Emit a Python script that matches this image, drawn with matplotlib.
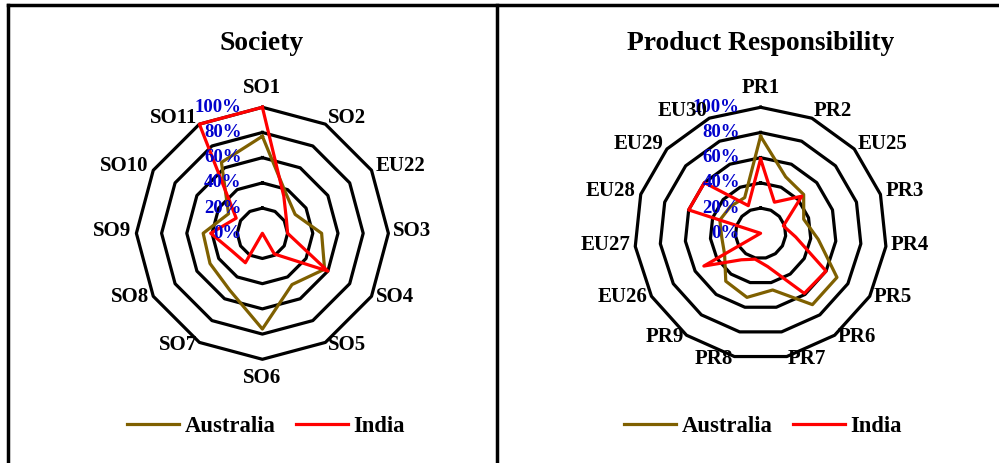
import numpy as np
import matplotlib
matplotlib.use('Agg')
import matplotlib.pyplot as plt
from matplotlib.lines import Line2D

plt.rcParams['font.family'] = ['Liberation Serif', 'DejaVu Serif']
plt.rcParams['font.weight'] = 'bold'

# values (percent)
society_labels = ['SO1', 'SO2', 'EU22', 'SO3', 'SO4', 'SO5', 'SO6', 'SO7', 'SO8', 'SO9', 'SO10', 'SO11']
society_australia = [77, 37, 30, 47, 57, 47, 76, 52, 48, 47, 31, 65]
society_india = [100, 34, 22, 20, 60, 19, 0, 27, 28, 41, 24, 100]

product_labels = ['PR1', 'PR2', 'EU25', 'PR3', 'PR4', 'PR5', 'PR6', 'PR7', 'PR8', 'PR9',
                  'EU26', 'EU27', 'EU28', 'EU29', 'EU30']
product_australia = [77, 49, 46, 36, 46, 70, 70, 46, 52, 47, 33, 31, 34, 32, 31]
product_india = [59, 27, 44, 19, 28, 60, 59, 27, 21, 26, 52, 0, 60, 60, 24]

ring_levels = [20, 40, 60, 80, 100]
pct_levels = [0, 20, 40, 60, 80, 100]
pct_labels = ['0%', '20%', '40%', '60%', '80%', '100%']

OLIVE = '#7F6000'
RED = '#FF0000'
BLUE = '#0000CC'
LW = 2.3


def radar(ax, labels, aus, ind):
    n = len(labels)
    theta = np.linspace(0, 2 * np.pi, n, endpoint=False)
    closed = np.append(theta, theta[0])
    ax.set_theta_zero_location('N')
    ax.set_theta_direction(-1)
    ax.set_ylim(0, 100)
    ax.grid(False)
    ax.spines['polar'].set_visible(False)
    ax.set_xticks([])
    ax.set_yticks([])
    ax.patch.set_visible(False)

    for lv in ring_levels:
        ax.plot(closed, [lv] * (n + 1), color='black', lw=LW, zorder=1, clip_on=False)
    l1, = ax.plot(closed, aus + aus[:1], color=OLIVE, lw=LW, zorder=3, clip_on=False, label='Australia')
    l2, = ax.plot(closed, ind + ind[:1], color=RED, lw=LW, zorder=4, clip_on=False, label='India')

    for lv, txt in zip(pct_levels, pct_labels):
        ax.annotate(txt, xy=(0, lv), xytext=(-15, 0), textcoords='offset points',
                    ha='right', va='center', color=BLUE, fontsize=13.5, zorder=6,
                    annotation_clip=False)

    for t, lab in zip(theta, labels):
        s, c = np.sin(t), np.cos(t)
        if abs(s) <= 0.05:
            ax.text(t, 107, lab, ha='center', va='bottom' if c > 0 else 'top',
                    fontsize=15, zorder=6)
        else:
            ax.annotate(lab, xy=(t, 104), xytext=(0, 1.5), textcoords='offset points',
                        ha='left' if s > 0 else 'right', va='center', fontsize=15,
                        zorder=6, annotation_clip=False)
    return l1, l2


fig = plt.figure(figsize=(9.99, 4.63), dpi=100)

ax1 = fig.add_axes([0.1365, 0.224, 0.2523, 0.5443], projection='polar')
h = radar(ax1, society_labels, society_australia, society_india)
ax2 = fig.add_axes([0.6352, 0.224, 0.2523, 0.5443], projection='polar')
radar(ax2, product_labels, product_australia, product_india)

fig.text(262 / 999, 1 - 44 / 463, 'Society', ha='center', va='center', fontsize=19.8)
fig.text(761 / 999, 1 - 44 / 463, 'Product Responsibility', ha='center', va='center', fontsize=19.8)

for cx in [266 / 999, 763 / 999]:
    fig.legend(h, ['Australia', 'India'], ncol=2, loc='center', bbox_to_anchor=(cx, 1 - 426 / 463),
               frameon=False, fontsize=16.3, handlelength=2.3, handletextpad=0.25,
               columnspacing=0.9)

# panel borders
fig.add_artist(Line2D([8 / 999, 1], [1 - 5 / 463] * 2, transform=fig.transFigure, color='black', lw=2.5))
fig.add_artist(Line2D([8 / 999] * 2, [0, 1 - 5 / 463], transform=fig.transFigure, color='black', lw=2.5))
fig.add_artist(Line2D([497 / 999] * 2, [0, 1 - 5 / 463], transform=fig.transFigure, color='black', lw=2.5))

fig.savefig('out.png', dpi=100)
